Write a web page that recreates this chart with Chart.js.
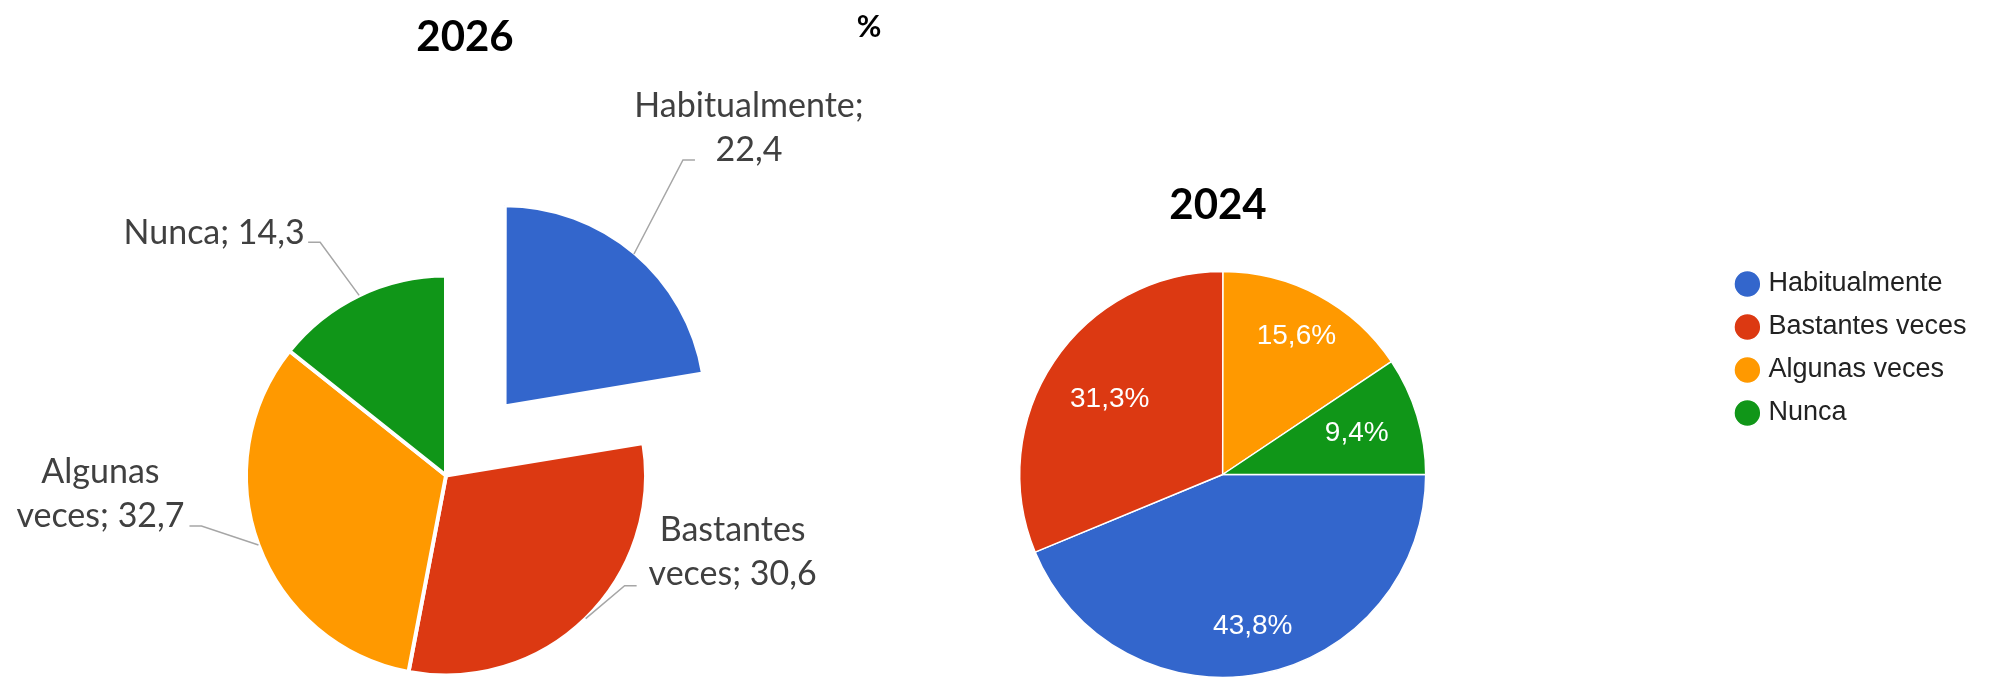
<!DOCTYPE html>
<html lang="es">
<head>
<meta charset="utf-8">
<title>Frecuencia 2026 / 2024</title>
<script src="https://cdn.jsdelivr.net/npm/chart.js@4.4.1/dist/chart.umd.min.js"></script>
<style>
  html, body { margin: 0; padding: 0; background: #fff; overflow: hidden; }
  body { width: 1993px; height: 677px; position: relative; }
  canvas { position: absolute; left: 0; top: 0; }
  .titulo {
    position: absolute; font-family: Lato, sans-serif; font-weight: bold; color: #000;
    line-height: 1; transform: translate(-50%, -50%); white-space: nowrap;
  }
</style>
</head>
<body>
<canvas id="chart2026" width="892" height="677"></canvas>
<canvas id="chart2024" width="1993" height="700"></canvas>
<div class="titulo" style="left:465px;top:35px;font-size:42px">2026</div>
<div class="titulo" style="left:869px;top:25px;font-size:30px">%</div>
<div class="titulo" style="left:1218px;top:203px;font-size:42px">2024</div>
<script>
// datos
const categorias = ['Habitualmente', 'Bastantes veces', 'Algunas veces', 'Nunca'];
const valores2026 = [22.4, 30.6, 32.7, 14.3];
const valores2024 = [43.8, 31.3, 15.6, 9.4];
const colores = ['#3366CC', '#DC3912', '#FF9900', '#109618'];

// etiquetas 2026: palabras en la primera linea (0 = una sola linea)
const cortes2026 = [1, 1, 1, 0];
// guias: codo y centro del texto, relativos al punto medio del arco
const guias2026 = [
    { codo: [49, -94], texto: [115, -126] },
    { codo: [39, -33], texto: [147, -66.5] },
    { codo: [-57, -19], texto: [-158, -50.5] },
    { codo: [-39, -53], texto: [-145, -62.5] }
];
// etiquetas 2024: distancia al centro (fraccion del radio)
const radiosEtiqueta2024 = [0.76, 0.67, 0.77, 0.69];

const formato = v => v.toFixed(1).replace('.', ',');

const etiquetasExternas = {
    id: 'etiquetasExternas',
    afterDatasetsDraw(chart) {
        const ctx = chart.ctx;
        const arcs = chart.getDatasetMeta(0).data;
        const valores = chart.data.datasets[0].data;
        ctx.save();
        ctx.font = '34px Lato, sans-serif';
        ctx.textAlign = 'center';
        ctx.textBaseline = 'middle';
        arcs.forEach((arc, i) => {
            const { x, y, startAngle, endAngle, outerRadius } =
                arc.getProps(['x', 'y', 'startAngle', 'endAngle', 'outerRadius'], true);
            const mid = (startAngle + endAngle) / 2;
            const r = outerRadius + (arc.options.offset || 0) / 4;
            const ax = x + Math.cos(mid) * r;
            const ay = y + Math.sin(mid) * r;
            const g = guias2026[i];
            const lado = Math.sign(g.texto[0]);

            ctx.strokeStyle = '#A6A6A6';
            ctx.lineWidth = 1.5;
            ctx.beginPath();
            ctx.moveTo(ax, ay);
            ctx.lineTo(ax + g.codo[0], ay + g.codo[1]);
            ctx.lineTo(ax + g.codo[0] + lado * 12, ay + g.codo[1]);
            ctx.stroke();

            const palabras = `${chart.data.labels[i]}; ${formato(valores[i])}`.split(' ');
            const n = cortes2026[i];
            const lineas = n ? [palabras.slice(0, n).join(' '), palabras.slice(n).join(' ')] : [palabras.join(' ')];
            const cx = ax + g.texto[0];
            const cy = ay + g.texto[1] - (lineas.length - 1) * 22;
            ctx.fillStyle = '#404040';
            lineas.forEach((t, k) => ctx.fillText(t, cx, cy + k * 44));
        });
        ctx.restore();
    }
};

const etiquetasInternas = {
    id: 'etiquetasInternas',
    afterDatasetsDraw(chart) {
        const ctx = chart.ctx;
        const arcs = chart.getDatasetMeta(0).data;
        const valores = chart.data.datasets[0].data;
        ctx.save();
        ctx.font = '28px "Liberation Sans", Arial, sans-serif';
        ctx.fillStyle = '#FFFFFF';
        ctx.textAlign = 'center';
        ctx.textBaseline = 'middle';
        arcs.forEach((arc, i) => {
            const { x, y, startAngle, endAngle, outerRadius } =
                arc.getProps(['x', 'y', 'startAngle', 'endAngle', 'outerRadius'], true);
            const mid = (startAngle + endAngle) / 2;
            const r = outerRadius * radiosEtiqueta2024[i];
            ctx.fillText(formato(valores[i]) + '%', x + Math.cos(mid) * r, y + Math.sin(mid) * r);
        });
        ctx.restore();
    }
};

new Chart(document.getElementById('chart2026'), {
    type: 'pie',
    data: {
        labels: categorias,
        datasets: [{
            data: valores2026,
            backgroundColor: colores,
            borderColor: '#FFFFFF',
            borderWidth: 4,
            offset: [362, 0, 0, 0],
            clip: false
        }]
    },
    options: {
        responsive: false,
        animation: false,
        events: [],
        radius: 200,
        layout: { padding: { top: 274 } },
        plugins: { legend: { display: false }, tooltip: { enabled: false } }
    },
    plugins: [etiquetasExternas]
});

new Chart(document.getElementById('chart2024'), {
    type: 'pie',
    data: {
        labels: categorias,
        datasets: [{
            data: valores2024,
            backgroundColor: colores,
            borderColor: '#FFFFFF',
            borderWidth: 1.5
        }]
    },
    options: {
        responsive: false,
        animation: false,
        events: [],
        rotation: 90,
        radius: 203,
        layout: { padding: { left: 721.5, top: 254.5, right: 16.5, bottom: 5.5 } },
        plugins: {
            tooltip: { enabled: false },
            legend: {
                position: 'right',
                align: 'start',
                labels: {
                    usePointStyle: true,
                    pointStyle: 'circle',
                    boxWidth: 15,
                    boxHeight: 19,
                    padding: 16,
                    color: '#222222',
                    font: { family: '"Liberation Sans", Arial, sans-serif', size: 27 }
                }
            }
        }
    },
    plugins: [etiquetasInternas]
});
</script>
</body>
</html>
